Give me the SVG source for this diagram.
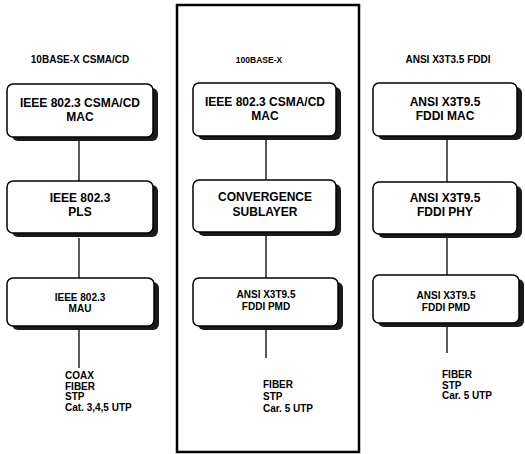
<svg xmlns="http://www.w3.org/2000/svg" width="525" height="454" viewBox="0 0 525 454">
<style>
text{font-family:"Liberation Sans",Arial,sans-serif;font-weight:bold;fill:#000}
.t1{font-size:12px;text-anchor:middle}
.t3{font-size:10px;text-anchor:middle}
.ttl{font-size:10px;text-anchor:middle}
.med{font-size:10px}
.box{fill:#fff;stroke:#000;stroke-width:1.5}
.sh{fill:#1a1a1a}
.conn line{stroke:#000;stroke-width:1.3}
</style>
<rect width="525" height="454" fill="#fff"/>
<rect x="177" y="5" width="182" height="447" fill="none" stroke="#000" stroke-width="2.5"/>

<g id="titles">
<text class="ttl" x="80" y="63">10BASE-X CSMA/CD</text>
<text class="ttl" x="259" y="63" style="font-size:8.5px">100BASE-X</text>
<text class="ttl" x="448" y="63">ANSI X3T3.5 FDDI</text>
</g>

<g class="conn" id="connectors">
<line x1="79" y1="140" x2="79" y2="181"/>
<line x1="79" y1="238" x2="79" y2="278"/>
<line x1="79" y1="330" x2="79" y2="368"/>
<line x1="266" y1="139" x2="266" y2="181"/>
<line x1="266" y1="236" x2="266" y2="278"/>
<line x1="266" y1="330" x2="266" y2="358"/>
<line x1="447" y1="139" x2="447" y2="182"/>
<line x1="447" y1="237" x2="447" y2="275"/>
<line x1="447" y1="327" x2="447" y2="353"/>
</g>

<g id="l1"><rect class="sh" x="12" y="88" width="146" height="53" rx="6"/><rect class="box" x="7" y="84" width="146" height="53" rx="6"/>
<text class="t1" x="80" y="107">IEEE 802.3 CSMA/CD</text><text class="t1" x="80" y="121">MAC</text></g>
<g id="l2"><rect class="sh" x="12" y="185" width="146" height="52" rx="6"/><rect class="box" x="7" y="181" width="146" height="52" rx="6"/>
<text class="t1" x="80" y="202">IEEE 802.3</text><text class="t1" x="80" y="216">PLS</text></g>
<g id="l3"><rect class="sh" x="12" y="282" width="147" height="48" rx="6"/><rect class="box" x="7" y="278" width="147" height="48" rx="6"/>
<text class="t3" x="80" y="301">IEEE 802.3</text><text class="t3" x="80" y="312">MAU</text></g>

<g id="m1"><rect class="sh" x="198" y="87" width="143" height="53" rx="6"/><rect class="box" x="193" y="83" width="143" height="53" rx="6"/>
<text class="t1" x="265" y="106">IEEE 802.3 CSMA/CD</text><text class="t1" x="265" y="120">MAC</text></g>
<g id="m2"><rect class="sh" x="198" y="184" width="143" height="52" rx="6"/><rect class="box" x="193" y="180" width="143" height="52" rx="6"/>
<text class="t1" x="265" y="201">CONVERGENCE</text><text class="t1" x="265" y="216">SUBLAYER</text></g>
<g id="m3"><rect class="sh" x="198" y="282" width="145" height="48" rx="6"/><rect class="box" x="193" y="278" width="145" height="48" rx="6"/>
<text class="t3" x="266" y="298">ANSI X3T9.5</text><text class="t3" x="266" y="310">FDDI PMD</text></g>

<g id="r1"><rect class="sh" x="378" y="87" width="144" height="53" rx="6"/><rect class="box" x="373" y="83" width="144" height="53" rx="6"/>
<text class="t1" x="445" y="106">ANSI X3T9.5</text><text class="t1" x="445" y="120">FDDI MAC</text></g>
<g id="r2"><rect class="sh" x="378" y="186" width="144" height="52" rx="6"/><rect class="box" x="373" y="182" width="144" height="52" rx="6"/>
<text class="t1" x="445" y="202">ANSI X3T9.5</text><text class="t1" x="445" y="216">FDDI PHY</text></g>
<g id="r3"><rect class="sh" x="378" y="279" width="146" height="48" rx="6"/><rect class="box" x="373" y="275" width="146" height="48" rx="6"/>
<text class="t3" x="446" y="299">ANSI X3T9.5</text><text class="t3" x="446" y="311">FDDI PMD</text></g>

<g id="media-left"><text class="med" x="65" y="379">COAX</text><text class="med" x="65" y="389.5">FIBER</text><text class="med" x="65" y="400">STP</text><text class="med" x="65" y="410.5">Cat. 3,4,5 UTP</text></g>
<g id="media-mid"><text class="med" x="263" y="388">FIBER</text><text class="med" x="263" y="400">STP</text><text class="med" x="263" y="412">Car. 5 UTP</text></g>
<g id="media-right"><text class="med" x="442" y="378">FIBER</text><text class="med" x="442" y="388.5">STP</text><text class="med" x="442" y="399">Car. 5 UTP</text></g>
</svg>
